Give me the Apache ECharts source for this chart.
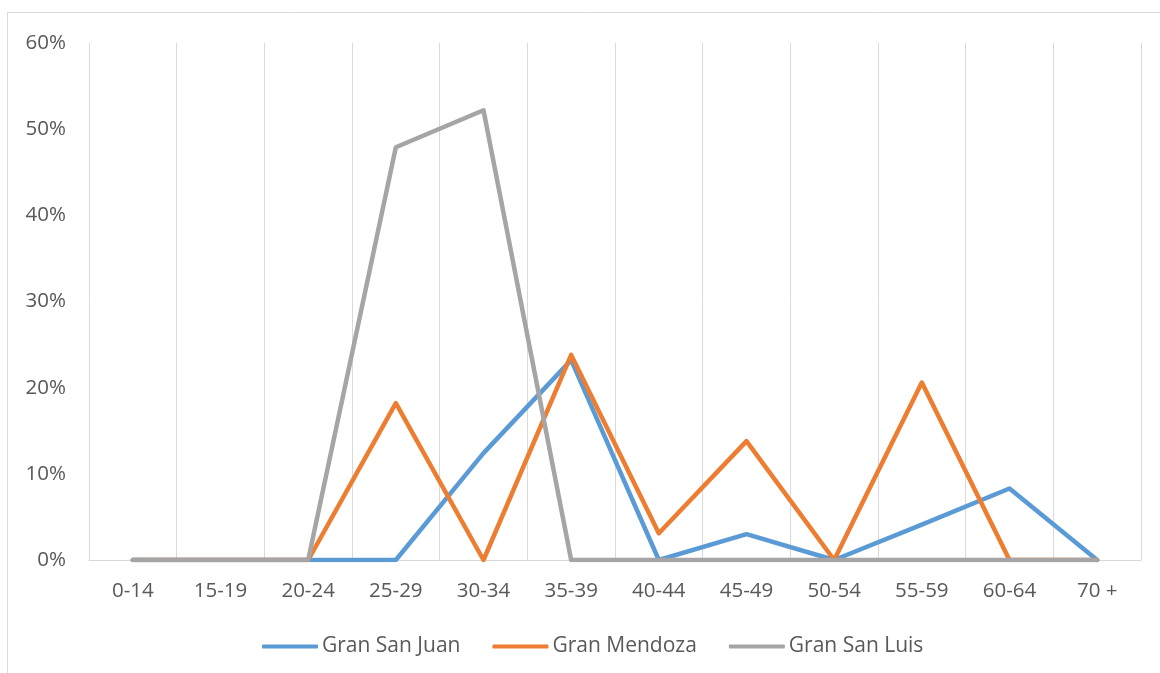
<!DOCTYPE html>
<html>
<head>
<meta charset="utf-8">
<script src="https://cdn.jsdelivr.net/npm/echarts@6/dist/echarts.min.js"></script>
<style>
	html, body { margin: 0; padding: 0; background: #fff; }
	#main { width: 1160px; height: 673px; }
</style>
</head>
<body>
<div id="main"></div>
<script>
var categories = ['0-14', '15-19', '20-24', '25-29', '30-34', '35-39', '40-44', '45-49', '50-54', '55-59', '60-64', '70 +']
var sanJuan = [0, 0, 0, 0, 12.4, 23.2, 0, 3.0, 0, 4.1, 8.3, 0]
var mendoza = [0, 0, 0, 18.2, 0, 23.8, 3.1, 13.8, 0, 20.6, 0, 0]
var sanLuis = [0, 0, 0, 47.9, 52.2, 0, 0, 0, 0, 0, 0, 0]
var yTicks = [0, 10, 20, 30, 40, 50, 60]

var font = '"Open Sans", "Noto Sans", sans-serif'
var textColor = '#595959'

var myChart = echarts.init(document.getElementById('main'))

function lineSeries(name, data, color) {
	return {
		name: name,
		type: 'line',
		data: data,
		symbol: 'none',
		lineStyle: { width: 4.5, color: color, cap: 'round', join: 'round' },
		itemStyle: { color: color }
	}
}

myChart.setOption({
	animation: false,
	color: ['#5B9BD5', '#ED7D31', '#A5A5A5'],
	graphic: [{
		type: 'rect',
		shape: { x: 7.5, y: 12.5, width: 1200, height: 700 },
		style: { fill: 'none', stroke: '#d9d9d9', lineWidth: 1 }
	}],
	grid: { left: 89, right: 19, top: 43, bottom: 113 },
	legend: {
		bottom: 11,
		left: 257,
		itemWidth: 56,
		itemHeight: 4,
		itemGap: 32,
		icon: 'roundRect',
		textStyle: { color: textColor, fontSize: 21, fontFamily: font, padding: [0, 0, 0, -1] },
		data: ['Gran San Juan', 'Gran Mendoza', 'Gran San Luis']
	},
	xAxis: {
		type: 'category',
		data: categories,
		boundaryGap: true,
		axisLine: { show: true, lineStyle: { color: '#d9d9d9', width: 1 } },
		axisTick: { show: false },
		splitLine: { show: true, lineStyle: { color: '#d9d9d9', width: 1 } },
		axisLabel: { color: textColor, fontSize: 20.5, fontFamily: font, margin: 21, interval: 0 }
	},
	yAxis: {
		type: 'value',
		min: yTicks[0],
		max: yTicks[yTicks.length - 1],
		interval: 10,
		axisLine: { show: false },
		axisTick: { show: false },
		splitLine: { show: false },
		axisLabel: {
			color: textColor, fontSize: 20.5, fontFamily: font, margin: 23,
			formatter: function (v) { return v + '%' }
		}
	},
	series: [
		lineSeries('Gran San Juan', sanJuan, '#5B9BD5'),
		lineSeries('Gran Mendoza', mendoza, '#ED7D31'),
		lineSeries('Gran San Luis', sanLuis, '#A5A5A5')
	]
})
</script>
</body>
</html>
